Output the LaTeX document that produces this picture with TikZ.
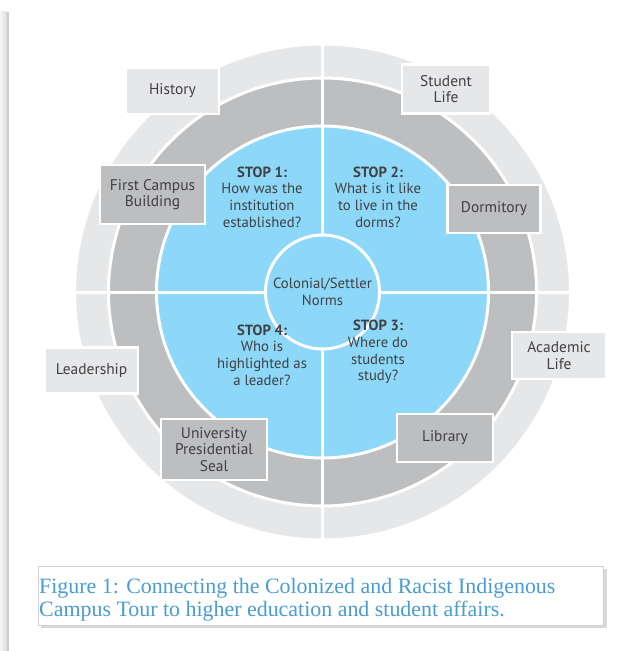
\documentclass[tikz,border=0pt]{standalone}
\usepackage{fontspec}
\setmainfont{Liberation Serif}
\newfontfamily\tourfont{PT Sans}
\usepackage{xcolor}
\definecolor{ringlight}{HTML}{E6E7E8}
\definecolor{ringdark}{HTML}{BCBEC0}
\definecolor{stopblue}{HTML}{8DD8F8}
\definecolor{inktext}{HTML}{414042}
\definecolor{capblue}{HTML}{4A9CD2}

\begin{document}
\begin{tikzpicture}[x=1bp,y=-1bp,
  lightbox/.style={draw=white, line width=2.5bp, fill=ringlight, text=inktext,
    font=\tourfont\fontsize{15.5}{16.5}\selectfont, align=center, inner sep=0pt},
  darkbox/.style={lightbox, fill=ringdark},
  stoptext/.style={text=inktext, font=\tourfont\fontsize{14.8}{16.7}\selectfont, align=center},
  ringline/.style={draw=white, line width=3bp}]
\useasboundingbox (0,0) rectangle (628,651);
\fill[white] (0,0) rectangle (628,651);
% page edge
\shade[left color=black!4, right color=black!14] (0,12) rectangle (7,651);
\fill[black!20] (7,12) rectangle (9,651);
% rings
\coordinate (c) at (322.5,292);
\draw[ringline, fill=ringlight] (c) circle (248bp);
\draw[ringline, fill=ringdark] (c) circle (214bp);
\draw[ringline, fill=stopblue] (c) circle (166bp);
\foreach \a in {0,90,180,270} {
  \draw[ringline] (c) -- ++(\a:252bp);
}
\draw[ringline, fill=stopblue] (c) circle (57bp);
\node[stoptext] (norms) at (c) {Colonial/Settler\\Norms};
% the four stops
\node[stoptext] (stop1) at (262,197) {\textbf{STOP 1:}\\How was the\\institution\\established?};
\node[stoptext] (stop2) at (378,197) {\textbf{STOP 2:}\\What is it like\\to live in the\\dorms?};
\node[stoptext] (stop3) at (378,352) {\textbf{STOP 3:}\\Where do\\students\\study?};
\node[stoptext] (stop4) at (262,355) {\textbf{STOP 4:}\\Who is\\highlighted as\\a leader?};
% labels
\node[lightbox, minimum width=93bp, minimum height=46bp] (history) at (172.5,91) {History};
\node[lightbox, minimum width=88bp, minimum height=49bp] (studentlife) at (446,89) {Student\\Life};
\node[darkbox, minimum width=105bp, minimum height=59bp] (firstcampus) at (152.5,194.5) {First Campus\\Building};
\node[darkbox, minimum width=93bp, minimum height=48bp] (dormitory) at (494,209) {Dormitory};
\node[lightbox, minimum width=93bp, minimum height=46bp] (leadership) at (91.5,370.5) {Leadership};
\node[lightbox, minimum width=94bp, minimum height=47bp] (academic) at (559,355.5) {Academic\\Life};
\node[darkbox, minimum width=106bp, minimum height=61bp] (seal) at (214,449.5) {University\\Presidential\\Seal};
\node[darkbox, minimum width=96bp, minimum height=48bp] (library) at (445,438) {Library};
% caption
\fill[black!15] (41,569) rectangle (607,628);
\draw[black!18, fill=white] (38,566) rectangle (603,625);
\node[anchor=north west, inner sep=0pt, text=capblue, align=left,
  font=\fontsize{22}{23}\selectfont] (caption) at (39,578)
  {Figure 1: Connecting the Colonized and Racist Indigenous\\Campus Tour to higher education and student affairs.};
\end{tikzpicture}
\end{document}
